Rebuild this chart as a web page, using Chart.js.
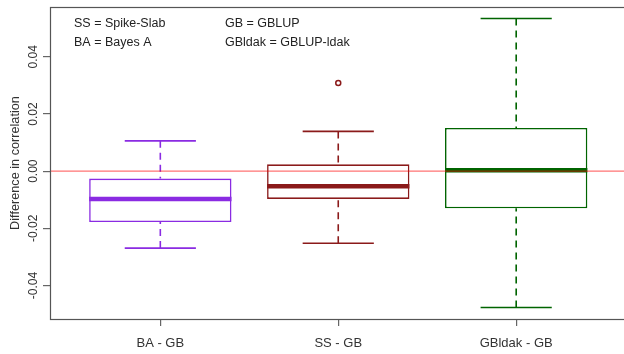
<!DOCTYPE html>
<html>
<head>
<meta charset="utf-8">
<script src="https://cdn.jsdelivr.net/npm/chart.js@4/dist/chart.umd.min.js"></script>
<style>
	html, body { margin: 0; padding: 0; overflow: hidden; background: #fff; }
	canvas { display: block; }
</style>
</head>
<body>
<canvas id="chart" width="632" height="354"></canvas>
<script>
// Box summaries
const CATEGORIES    = ['BA - GB', 'SS - GB', 'GBldak - GB'];
const LOWER_WHISKER = [-0.0269, -0.0252, -0.0477];
const Q1            = [-0.0178, -0.0097, -0.0130];
const MEDIAN        = [-0.0097, -0.0053,  0.0003];
const Q3            = [-0.0026,  0.0024,  0.0151];
const UPPER_WHISKER = [ 0.0106,  0.0139,  0.0534];
const OUTLIERS      = [[], [0.0308], []];
const COLORS        = ['#8a2be2', '#8b1a1a', '#006400'];
const Y_TICKS       = [-0.04, -0.02, 0, 0.02, 0.04];
const LEGEND_LEFT   = ['SS = Spike-Slab', 'BA = Bayes A'];
const LEGEND_RIGHT  = ['GB = GBLUP', 'GBldak = GBLUP-ldak'];

const X_MIN = 0.38, X_MAX = 3.62;   // R's default 4% extension of 0.5..3.5
const Y_MIN = -0.0517, Y_MAX = 0.0574;
const BOX_HALF = 0.4, CAP_HALF = 0.2;
const FONT = 'Liberation Sans, Arial, sans-serif';

const datasets = [];

// boxes (floating bars)
datasets.push({
	type: 'bar',
	data: CATEGORIES.map((c, i) => ({ x: i + 1, y: [Q1[i], Q3[i]] })),
	backgroundColor: '#fff',
	borderColor: COLORS,
	borderWidth: 1.6,
	borderSkipped: false,
	barPercentage: 1,
	categoryPercentage: 0.8,
	order: 5
});

CATEGORIES.forEach((c, i) => {
	const x = i + 1;
	// dashed whiskers
	datasets.push({
		type: 'line',
		data: [
			{ x: x, y: UPPER_WHISKER[i] }, { x: x, y: Q3[i] }, { x: x, y: null },
			{ x: x, y: LOWER_WHISKER[i] }, { x: x, y: Q1[i] }
		],
		borderColor: COLORS[i],
		borderWidth: 1.6,
		borderDash: [7, 5],
		pointRadius: 0,
		spanGaps: false,
		order: 6
	});
	// whisker caps
	datasets.push({
		type: 'line',
		data: [
			{ x: x - CAP_HALF, y: UPPER_WHISKER[i] }, { x: x + CAP_HALF, y: UPPER_WHISKER[i] }, { x: x, y: null },
			{ x: x - CAP_HALF, y: LOWER_WHISKER[i] }, { x: x + CAP_HALF, y: LOWER_WHISKER[i] }
		],
		borderColor: COLORS[i],
		borderWidth: 1.6,
		pointRadius: 0,
		spanGaps: false,
		order: 4
	});
	// median
	datasets.push({
		type: 'line',
		data: [{ x: x - BOX_HALF, y: MEDIAN[i] }, { x: x + BOX_HALF, y: MEDIAN[i] }],
		borderColor: COLORS[i],
		borderWidth: 4.5,
		pointRadius: 0,
		order: 3
	});
	// outliers
	if (OUTLIERS[i].length) {
		datasets.push({
			type: 'scatter',
			data: OUTLIERS[i].map(v => ({ x: x, y: v })),
			pointStyle: 'circle',
			pointRadius: 2.5,
			borderWidth: 1.5,
			borderColor: COLORS[i],
			backgroundColor: 'rgba(0,0,0,0)',
			order: 2
		});
	}
});

// reference line at zero
datasets.push({
	type: 'line',
	data: [{ x: X_MIN, y: 0 }, { x: X_MAX, y: 0 }],
	borderColor: 'rgba(255,0,0,0.55)',
	borderWidth: 1.3,
	pointRadius: 0,
	order: 0
});

const framePlugin = {
	id: 'frame',
	afterDraw(chart) {
		const { ctx, chartArea: a } = chart;
		ctx.save();
		ctx.strokeStyle = '#555';
		ctx.lineWidth = 1.2;
		ctx.strokeRect(a.left + 0.5, a.top + 0.5, a.right - a.left, a.bottom - a.top);
		// key text in the top-left corner
		ctx.fillStyle = '#222';
		ctx.font = '12.5px ' + FONT;
		ctx.textBaseline = 'middle';
		ctx.textAlign = 'left';
		LEGEND_LEFT.forEach((t, k) => ctx.fillText(t, a.left + 24, a.top + 17 + k * 19));
		LEGEND_RIGHT.forEach((t, k) => ctx.fillText(t, a.left + 175, a.top + 17 + k * 19));
		ctx.restore();
	}
};

new Chart(document.getElementById('chart'), {
	type: 'bar',
	data: { datasets },
	plugins: [framePlugin],
	options: {
		responsive: false,
		animation: false,
		events: [],
		layout: { padding: { top: 7, right: 3, left: 0, bottom: 0 } },
		plugins: {
			legend: { display: false },
			tooltip: { enabled: false }
		},
		scales: {
			x: {
				type: 'linear',
				min: X_MIN,
				max: X_MAX,
				offset: false,
				afterBuildTicks: s => { s.ticks = CATEGORIES.map((c, i) => ({ value: i + 1 })); },
				afterFit: s => { s.height = 35; },
				border: { display: false },
				grid: { offset: false, drawOnChartArea: false, drawTicks: true, tickLength: 7, color: '#666', lineWidth: 1.2 },
				ticks: {
					autoSkip: false,
					maxRotation: 0,
					padding: 10,
					color: '#333',
					font: { family: FONT, size: 13 },
					callback: v => CATEGORIES[v - 1]
				}
			},
			y: {
				type: 'linear',
				min: Y_MIN,
				max: Y_MAX,
				afterBuildTicks: s => { s.ticks = Y_TICKS.map(v => ({ value: v })); },
				afterFit: s => { s.width = 50; },
				border: { display: false },
				grid: { drawOnChartArea: false, drawTicks: true, tickLength: 7, color: '#666', lineWidth: 1.2 },
				ticks: {
					autoSkip: false,
					minRotation: 90,
					maxRotation: 90,
					crossAlign: 'center',
					padding: -4,
					color: '#333',
					font: { family: FONT, size: 12 },
					callback: v => v.toFixed(2)
				},
				title: {
					display: true,
					text: 'Difference in correlation',
					color: '#333',
					font: { family: FONT, size: 12.7 },
					padding: { top: 8, bottom: 0 }
				}
			}
		}
	}
});
</script>
</body>
</html>
